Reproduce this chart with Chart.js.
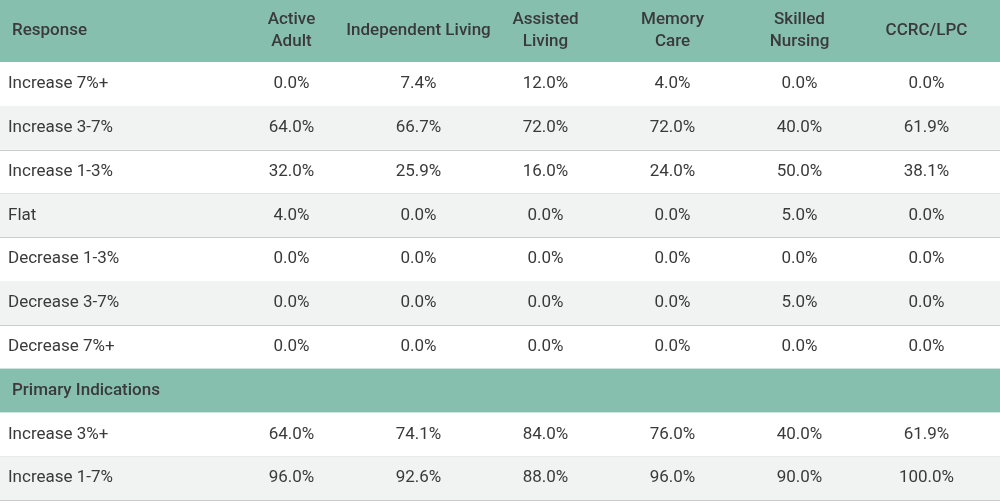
<!DOCTYPE html>
<html>
<head>
<meta charset="utf-8">
<script src="https://cdn.jsdelivr.net/npm/chart.js@4/dist/chart.umd.min.js"></script>
<style>
  html, body { margin: 0; padding: 0; background: #fff; }
  #wrap { width: 1000px; height: 504px; }
</style>
</head>
<body>
<div id="wrap"><canvas id="tbl"></canvas></div>
<script>
// column headers (two lines each)
const columns = [["Active", "Adult"], ["Independent Living"], ["Assisted", "Living"], ["Memory", "Care"], ["Skilled", "Nursing"], ["CCRC/LPC"]];
// row labels, "Primary Indications" is a section band
const rows = ["Increase 7%+", "Increase 3-7%", "Increase 1-3%", "Flat", "Decrease 1-3%", "Decrease 3-7%", "Decrease 7%+", "Primary Indications", "Increase 3%+", "Increase 1-7%"];
const sectionRow = 7;

// values per column, one per row (null for the section band)
const activeAdult    = [0.0, 64.0, 32.0, 4.0, 0.0, 0.0, 0.0, null, 64.0, 96.0];
const independent    = [7.4, 66.7, 25.9, 0.0, 0.0, 0.0, 0.0, null, 74.1, 92.6];
const assisted       = [12.0, 72.0, 16.0, 0.0, 0.0, 0.0, 0.0, null, 84.0, 88.0];
const memoryCare     = [4.0, 72.0, 24.0, 0.0, 0.0, 0.0, 0.0, null, 76.0, 96.0];
const skilledNursing = [0.0, 40.0, 50.0, 5.0, 0.0, 5.0, 0.0, null, 40.0, 90.0];
const ccrc           = [0.0, 61.9, 38.1, 0.0, 0.0, 0.0, 0.0, null, 61.9, 100.0];
const series = [activeAdult, independent, assisted, memoryCare, skilledNursing, ccrc];

const TEAL = "#86bfae", GRAY = "#f1f2f2", LINE = "#c9cccb", TEXT = "#3a3a3a";
const FONT = "Roboto, 'Liberation Sans', sans-serif";

const tablePlugin = {
  id: "table",
  beforeDraw(chart) {
    const ctx = chart.ctx;
    const x = chart.scales.x, y = chart.scales.y;
    const W = chart.width;
    const step = y.getPixelForValue(1) - y.getPixelForValue(0);
    const top = y.getPixelForValue(0) - step / 2;

    ctx.save();
    // header band
    ctx.fillStyle = TEAL;
    ctx.fillRect(0, 0, W, top);
    ctx.fillStyle = TEXT;
    ctx.font = "500 17px " + FONT;
    ctx.textBaseline = "middle";
    ctx.textAlign = "left";
    ctx.fillText("Response", 12, top / 2);
    ctx.textAlign = "center";
    columns.forEach((c, i) => {
      const cx = x.getPixelForValue(i);
      if (c.length === 1) ctx.fillText(c[0], cx, top / 2);
      else { ctx.fillText(c[0], cx, top / 2 - 11); ctx.fillText(c[1], cx, top / 2 + 11); }
    });

    // rows
    let stripe = 0;
    rows.forEach((r, ri) => {
      const cy = y.getPixelForValue(ri);
      const y0 = cy - step / 2;
      if (ri === sectionRow) {
        ctx.fillStyle = TEAL;
        ctx.fillRect(0, y0, W, step);
        ctx.fillStyle = TEXT;
        ctx.font = "500 17px " + FONT;
        ctx.textAlign = "left";
        ctx.fillText(r, 12, cy);
        stripe = 0;
        return;
      }
      if (stripe % 2 === 1) { ctx.fillStyle = GRAY; ctx.fillRect(0, y0, W, step); }
      stripe++;
      ctx.strokeStyle = LINE; ctx.lineWidth = 1;
      ctx.beginPath(); ctx.moveTo(0, Math.round(y0 + step) + 0.5); ctx.lineTo(W, Math.round(y0 + step) + 0.5); ctx.stroke();
      ctx.fillStyle = TEXT;
      ctx.font = "400 17px " + FONT;
      ctx.textAlign = "left";
      ctx.fillText(r, 8, cy);
      ctx.textAlign = "center";
      series.forEach((s, ci) => {
        ctx.fillText(s[ri].toFixed(1) + "%", x.getPixelForValue(ci), cy);
      });
    });
    ctx.restore();
  }
};

new Chart(document.getElementById("tbl").getContext("2d"), {
  type: "bar",
  data: { labels: columns.map(c => c.join(" ")), datasets: [] },
  options: {
    responsive: true,
    maintainAspectRatio: false,
    animation: false,
    layout: { padding: { left: 228, top: 62, right: 10, bottom: 4 } },
    plugins: { legend: { display: false }, tooltip: { enabled: false } },
    scales: {
      x: { type: "category", offset: true, display: false },
      y: { type: "category", labels: rows, offset: true, display: false }
    }
  },
  plugins: [tablePlugin]
});
</script>
</body>
</html>
